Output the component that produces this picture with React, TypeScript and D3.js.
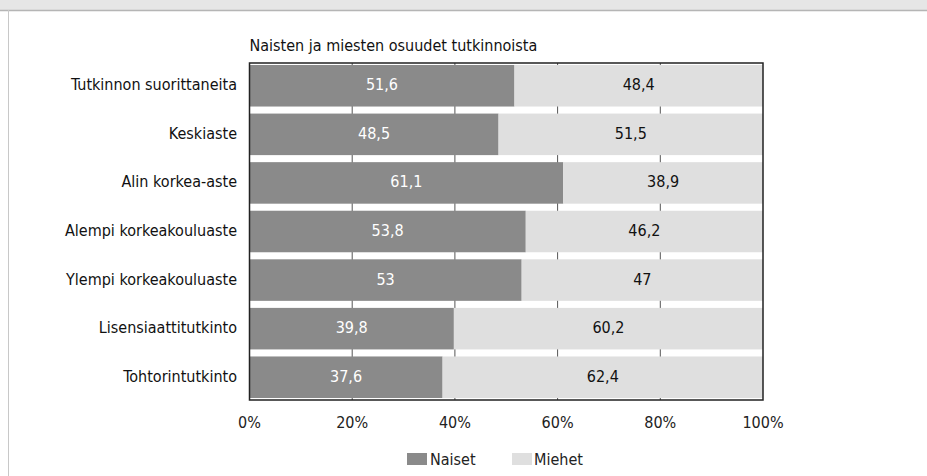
import React, { useEffect } from "react";
import * as d3 from "d3";

const categories = [
  "Tutkinnon suorittaneita",
  "Keskiaste",
  "Alin korkea-aste",
  "Alempi korkeakouluaste",
  "Ylempi korkeakouluaste",
  "Lisensiaattitutkinto",
  "Tohtorintutkinto",
];
const naiset = [51.6, 48.5, 61.1, 53.8, 53, 39.8, 37.6];
const miehet = [48.4, 51.5, 38.9, 46.2, 47, 60.2, 62.4];
const ticks = [0, 20, 40, 60, 80, 100];
const title = "Naisten ja miesten osuudet tutkinnoista";
const seriesNames = ["Naiset", "Miehet"];

const W = 927;
const H = 476;
const FONT = "'DejaVu Sans Condensed', 'Open Sans', sans-serif";
const DARK = "#8a8a8a";
const LIGHT = "#dfdfdf";

const fmt = (v: number) => String(v).replace(".", ",");

export default function App() {
  useEffect(() => {
    document.documentElement.style.overflow = "hidden";
    document.body.style.overflow = "hidden";
    document.body.style.margin = "0";
  }, []);
  const x = d3.scaleLinear().domain([0, 100]).range([249.5, 763]);
  const y = d3.scaleBand<string>().domain(categories).range([65, 398]).paddingInner(0.145).paddingOuter(0);
  const plotTop = 63;
  const plotBottom = 400;
  const fs = 16;

  return (
    <svg width={W} height={H} style={{ position: "absolute", left: 0, top: 0, display: "block", background: "#fff" }} fontFamily={FONT}>
      <rect x={0} y={0} width={W} height={10} fill="#e6e6e6" />
      <line x1={0} x2={W} y1={10.5} y2={10.5} stroke="#b5b5b5" strokeWidth={1.5} />
      <line x1={8.5} x2={8.5} y1={10} y2={H} stroke="#c8c8c8" strokeWidth={1} />

      <text x={x(0)} y={46} fontSize={fs} fill="#111" dominantBaseline="middle">{title}</text>

      {ticks.slice(1, -1).map((t) => (
        <line key={t} x1={x(t)} x2={x(t)} y1={plotTop} y2={plotBottom} stroke="#555" strokeWidth={1} />
      ))}

      {categories.map((c, i) => {
        const y0 = y(c)!;
        const bh = y.bandwidth();
        const cy = y0 + bh / 2;
        const xa = x(0), xb = x(naiset[i]), xc = x(naiset[i] + miehet[i]);
        return (
          <g key={c}>
            <rect x={xa} y={y0} width={xb - xa} height={bh} fill={DARK} />
            <rect x={xb} y={y0} width={xc - xb} height={bh} fill={LIGHT} />
            <text x={(xa + xb) / 2} y={cy} fontSize={fs} fill="#fff" textAnchor="middle" dominantBaseline="middle">{fmt(naiset[i])}</text>
            <text x={(xb + xc) / 2} y={cy} fontSize={fs} fill="#111" textAnchor="middle" dominantBaseline="middle">{fmt(miehet[i])}</text>
            <text x={237} y={cy} fontSize={fs} fill="#111" textAnchor="end" dominantBaseline="middle">{c}</text>
          </g>
        );
      })}

      <rect x={x(0)} y={plotTop} width={x(100) - x(0)} height={plotBottom - plotTop} fill="none" stroke="#222" strokeWidth={1.5} />

      {ticks.map((t) => (
        <text key={t} x={x(t)} y={423} fontSize={fs} fill="#222" textAnchor="middle" dominantBaseline="middle">{t}%</text>
      ))}

      <g>
        <rect x={407} y={453} width={20} height={12} fill={DARK} />
        <text x={430} y={460} fontSize={fs} fill="#222" dominantBaseline="middle">{seriesNames[0]}</text>
        <rect x={512} y={453} width={20} height={12} fill={LIGHT} />
        <text x={534} y={460} fontSize={fs} fill="#222" dominantBaseline="middle">{seriesNames[1]}</text>
      </g>
    </svg>
  );
}
